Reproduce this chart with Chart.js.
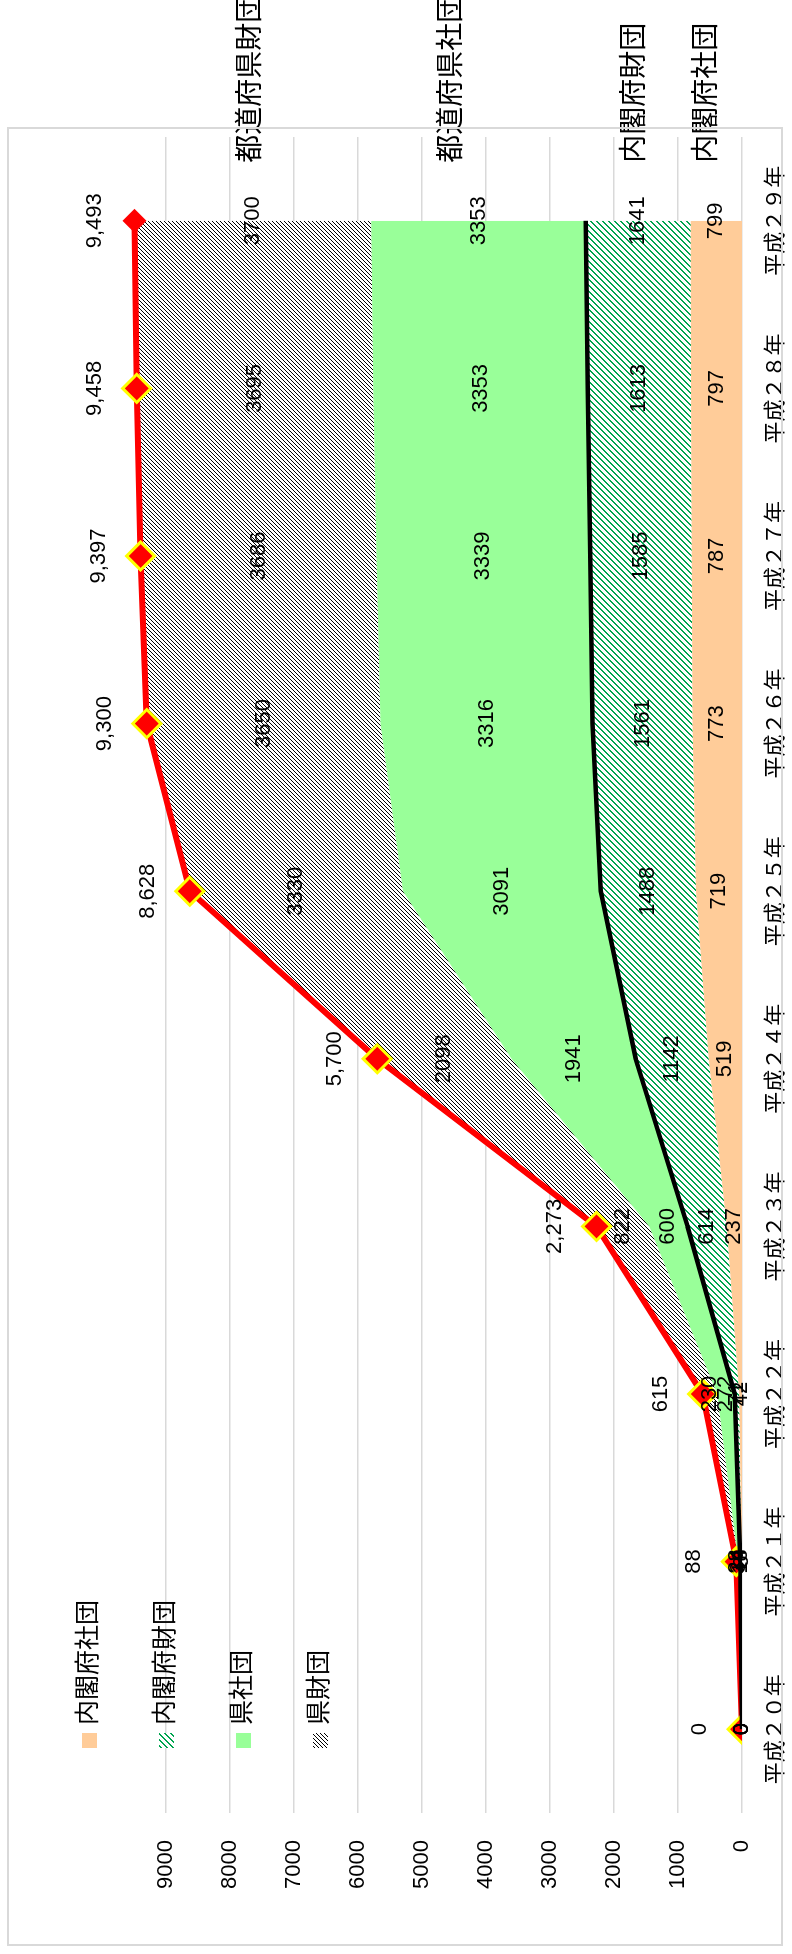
<!DOCTYPE html>
<html>
<head>
<meta charset="utf-8">
<script src="https://cdn.jsdelivr.net/npm/chart.js@4/dist/chart.umd.min.js"></script>
<style>
  html, body { margin: 0; padding: 0; background: #fff; overflow: hidden; width: 792px; height: 1954px; }
  /* the chart is laid out landscape and turned a quarter turn counter-clockwise */
  #wrap { position: absolute; left: 0; top: 0; width: 1954px; height: 792px;
          transform-origin: 0 0; transform: translate(0, 1954px) rotate(-90deg); }
  canvas { display: block; }
</style>
</head>
<body>
<div id="wrap"><canvas id="c" width="1954" height="792"></canvas></div>
<script>
// 年度
const categories = ['平成２０年', '平成２１年', '平成２２年', '平成２３年', '平成２４年',
                    '平成２５年', '平成２６年', '平成２７年', '平成２８年', '平成２９年'];

// 積み上げ面（下から順）
const naikakuShadan = [0, 8, 42, 237, 519, 719, 773, 787, 797, 799];        // 内閣府社団
const naikakuZaidan = [0, 18, 71, 614, 1142, 1488, 1561, 1585, 1613, 1641]; // 内閣府財団
const kenShadan     = [0, 34, 272, 600, 1941, 3091, 3316, 3339, 3353, 3353]; // 県社団
const kenZaidan     = [0, 28, 230, 822, 2098, 3330, 3650, 3686, 3695, 3700]; // 県財団

// 折れ線
const totalAll     = [0, 88, 615, 2273, 5700, 8628, 9300, 9397, 9458, 9493]; // 合計
const totalNaikaku = [0, 26, 113, 851, 1661, 2207, 2334, 2372, 2410, 2440];  // 内閣府計

const legendNames = ['内閣府社団', '内閣府財団', '県社団', '県財団'];
const seriesNames = ['内閣府社団', '内閣府財団', '都道府県社団', '都道府県財団'];
const valueTicks = [0, 1000, 2000, 3000, 4000, 5000, 6000, 7000, 8000, 9000];

const FONT = '"Liberation Sans", "Noto Sans CJK JP", sans-serif';

// diagonal hatch tile: cells on the same anti-diagonal share a colour
function hatch(colors, period) {
  const c = document.createElement('canvas');
  c.width = c.height = period;
  const g = c.getContext('2d');
  g.fillStyle = '#ffffff';
  g.fillRect(0, 0, period, period);
  for (let x = 0; x < period; x++)
    for (let y = 0; y < period; y++) {
      const col = colors[(x + y) % period];
      if (col) { g.fillStyle = col; g.fillRect(x, y, 1, 1); }
    }
  return g.createPattern(c, 'repeat');
}

const peach = '#FFCC99';
const greenHatch = hatch(['#00A550', '#00A550', null, null, null, null], 6);
const lightGreen = '#99FF99';
const blackHatch = hatch(['#000000', null, null, null], 4);
const fills = [peach, greenHatch, lightGreen, blackHatch];
const bands = [naikakuShadan, naikakuZaidan, kenShadan, kenZaidan];

const lastIdx = categories.length - 1;

const decorations = {
  id: 'decorations',
  beforeDraw(chart) {
    const ctx = chart.ctx;
    ctx.save();
    ctx.fillStyle = '#fff';
    ctx.fillRect(0, 0, chart.width, chart.height);
    ctx.restore();
  },
  afterDatasetsDraw(chart) {
    const ctx = chart.ctx;
    const xs = chart.scales.x, ys = chart.scales.y;
    ctx.save();
    ctx.fillStyle = '#000';
    ctx.textAlign = 'center';
    ctx.textBaseline = 'middle';
    ctx.font = '22px ' + FONT;

    // 各帯の値
    categories.forEach((c, i) => {
      let base = 0;
      bands.forEach(b => {
        const v = b[i];
        ctx.fillText(String(v), xs.getPixelForValue(i), ys.getPixelForValue(base + v / 2));
        base += v;
      });
    });

    // 合計の値
    const meta = chart.getDatasetMeta(5);
    meta.data.forEach((pt, i) => {
      const r = pt.options.radius;
      ctx.fillText(totalAll[i].toLocaleString('en-US'), pt.x, pt.y - r - 28);
    });

    // 系列名（最終年の右側）
    ctx.font = '28px ' + FONT;
    ctx.textAlign = 'left';
    const nameShift = [-9, -3, -26, -2];
    let base = 0;
    bands.forEach((b, k) => {
      const v = b[lastIdx];
      const y = ys.getPixelForValue(base + v / 2) + nameShift[k];
      ctx.fillText(seriesNames[k], xs.getPixelForValue(lastIdx) + 58, y);
      base += v;
    });
    ctx.restore();
  },
  afterDraw(chart) {
    const ctx = chart.ctx;
    ctx.save();
    // 凡例
    ctx.font = '25px ' + FONT;
    ctx.textAlign = 'left';
    ctx.textBaseline = 'middle';
    legendNames.forEach((name, k) => {
      const cy = 89.5 + 77 * k;
      ctx.fillStyle = fills[k];
      ctx.fillRect(206, cy - 7.5, 15, 15);
      ctx.fillStyle = '#000';
      ctx.fillText(name, 229, cy);
    });
    // 外枠
    ctx.strokeStyle = '#d9d9d9';
    ctx.lineWidth = 2;
    ctx.strokeRect(9, 8, 1817, 774);
    ctx.restore();
  }
};

const areaDs = bands.map((b, k) => ({
  label: legendNames[k],
  data: b,
  stack: 'area',
  order: 2,
  fill: k === 0 ? 'origin' : '-1',
  backgroundColor: fills[k],
  borderWidth: 0,
  pointRadius: 0,
  tension: 0
}));

new Chart(document.getElementById('c'), {
  type: 'line',
  data: {
    labels: categories,
    datasets: [
      ...areaDs,
      {
        label: '内閣府計',
        data: totalNaikaku,
        stack: 'naikaku',
        order: 0,
        fill: false,
        borderColor: '#000',
        borderWidth: 4.5,
        pointRadius: 0,
        tension: 0
      },
      {
        label: '合計',
        data: totalAll,
        stack: 'total',
        order: 1,
        fill: false,
        borderColor: '#FF0000',
        borderWidth: 6,
        pointStyle: 'rectRot',
        pointRadius: totalAll.map((v, i) => i === lastIdx ? 12 : 14),
        pointBackgroundColor: '#FF0000',
        pointBorderColor: '#FFFF00',
        pointBorderWidth: totalAll.map((v, i) => i === lastIdx ? 0 : 3),
        tension: 0
      }
    ]
  },
  options: {
    responsive: false,
    animation: false,
    devicePixelRatio: 1,
    layout: { padding: { left: 0, right: 137, top: 102, bottom: 0 } },
    plugins: { legend: { display: false }, tooltip: { enabled: false } },
    scales: {
      x: {
        offset: true,
        grid: { display: false, drawTicks: false },
        border: { display: false },
        ticks: { color: '#000', font: { size: 22, family: FONT }, padding: 21, maxRotation: 0, autoSkip: false },
        afterFit(s) { s.height = 50; }
      },
      y: {
        stacked: true,
        min: 0,
        max: 10000,
        afterBuildTicks(s) { s.ticks = valueTicks.map(v => ({ value: v })); },
        grid: { color: '#d9d9d9', lineWidth: 1.5, drawTicks: false },
        border: { display: false },
        ticks: { color: '#000', font: { size: 22, family: FONT }, padding: 27, callback: v => String(v) },
        afterFit(s) { s.width = 141; }
      }
    }
  },
  plugins: [decorations]
});
</script>
</body>
</html>
